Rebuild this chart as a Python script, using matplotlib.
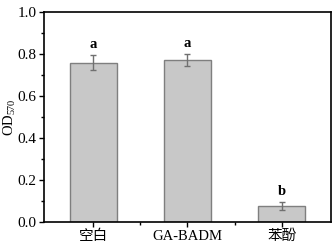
import matplotlib
matplotlib.use("Agg")
import matplotlib.pyplot as plt
from matplotlib.ticker import MultipleLocator, FixedLocator

categories = ["空白", "GA-BADM", "苯酚"]
values = [0.758, 0.771, 0.076]
errors = [0.036, 0.027, 0.017]
letters = ["a", "a", "b"]

plt.rcParams['font.family'] = ['Liberation Serif', 'Noto Sans CJK SC']
plt.rcParams['mathtext.fontset'] = 'custom'
plt.rcParams['mathtext.rm'] = 'Liberation Serif'

fig = plt.figure(figsize=(3.36, 2.45), dpi=100)
ax = fig.add_axes([0.131, 0.094, 0.854, 0.857])

x = list(range(1, len(categories) + 1))
ax.bar(x, values, width=0.5, color='#c8c8c8', edgecolor='#7f7f7f', linewidth=1.0,
       yerr=errors, error_kw=dict(ecolor='#707070', elinewidth=1.0, capsize=2.5, capthick=1.0))
for xi, v, e, l in zip(x, values, errors, letters):
    ax.text(xi, v + e + 0.022, l, ha='center', va='bottom', fontsize=10.5, fontweight='bold')

ax.set_xlim(0.48, 3.52)
ax.set_ylim(0, 1.0)
ax.set_xticks(x)
ax.set_xticklabels(categories, fontsize=10.5)
ax.xaxis.set_minor_locator(FixedLocator([1.5, 2.5]))
ax.yaxis.set_major_locator(MultipleLocator(0.2))
ax.yaxis.set_minor_locator(MultipleLocator(0.1))
ax.set_yticklabels([f"{t:.1f}" for t in ax.get_yticks()], fontsize=11)
ax.set_ylabel("OD$_{570}$", fontsize=10.5)
ax.yaxis.set_label_coords(-0.09, 0.5)
ax.tick_params(direction='out', length=3.5, width=1.0, pad=2)
ax.tick_params(which='minor', direction='out', length=2, width=1.0)
for s in ax.spines.values():
    s.set_linewidth(1.2)

fig.savefig("out.png", dpi=100)
